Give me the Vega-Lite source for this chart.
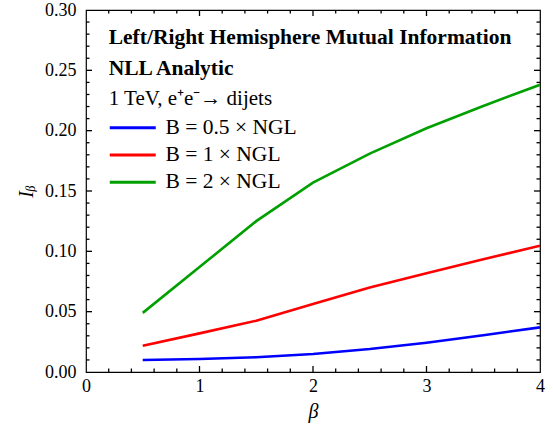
{
  "$schema": "https://vega.github.io/schema/vega-lite/v6.json",
  "width": 454,
  "height": 362,
  "autosize": {"type": "none"},
  "padding": {"left": 86, "top": 10, "right": 13, "bottom": 62},
  "background": "white",
  "config": {
    "font": "Liberation Serif",
    "view": {"stroke": "black", "strokeWidth": 1.2},
    "text": {"font": "Liberation Serif"},
    "axis": {"domain": false, "ticks": false, "grid": false, "labelFont": "Liberation Serif", "titleFont": "Liberation Serif", "labelColor": "black", "titleColor": "black", "labelFontSize": 18},
    "legend": {"labelFont": "Liberation Serif"}
  },
  "datasets": {
    "curves": [
      {"beta": 0.5, "I": 0.0099, "series": "B = 0.5 × NGL"},
      {"beta": 1.0, "I": 0.0108, "series": "B = 0.5 × NGL"},
      {"beta": 1.5, "I": 0.0122, "series": "B = 0.5 × NGL"},
      {"beta": 2.0, "I": 0.0149, "series": "B = 0.5 × NGL"},
      {"beta": 2.5, "I": 0.0190, "series": "B = 0.5 × NGL"},
      {"beta": 3.0, "I": 0.0243, "series": "B = 0.5 × NGL"},
      {"beta": 3.5, "I": 0.0305, "series": "B = 0.5 × NGL"},
      {"beta": 4.0, "I": 0.0370, "series": "B = 0.5 × NGL"},
      {"beta": 0.5, "I": 0.0218, "series": "B = 1 × NGL"},
      {"beta": 1.0, "I": 0.0320, "series": "B = 1 × NGL"},
      {"beta": 1.5, "I": 0.0425, "series": "B = 1 × NGL"},
      {"beta": 2.0, "I": 0.0563, "series": "B = 1 × NGL"},
      {"beta": 2.5, "I": 0.0700, "series": "B = 1 × NGL"},
      {"beta": 3.0, "I": 0.0818, "series": "B = 1 × NGL"},
      {"beta": 3.5, "I": 0.0934, "series": "B = 1 × NGL"},
      {"beta": 4.0, "I": 0.1047, "series": "B = 1 × NGL"},
      {"beta": 0.5, "I": 0.0490, "series": "B = 2 × NGL"},
      {"beta": 1.0, "I": 0.0870, "series": "B = 2 × NGL"},
      {"beta": 1.5, "I": 0.1250, "series": "B = 2 × NGL"},
      {"beta": 2.0, "I": 0.1570, "series": "B = 2 × NGL"},
      {"beta": 2.5, "I": 0.1810, "series": "B = 2 × NGL"},
      {"beta": 3.0, "I": 0.2020, "series": "B = 2 × NGL"},
      {"beta": 3.5, "I": 0.2205, "series": "B = 2 × NGL"},
      {"beta": 4.0, "I": 0.2380, "series": "B = 2 × NGL"}
    ],
    "bold": [
      {"beta": 0.2, "I": 0.2764, "label": "Left/Right Hemisphere Mutual Information"},
      {"beta": 0.2, "I": 0.2513, "label": "NLL Analytic"}
    ],
    "plain": [
      {"beta": 0.2, "I": 0.2264, "label": "1 TeV, e⁺e⁻→ dijets"}
    ],
    "xmajor": [{"beta": 1}, {"beta": 2}, {"beta": 3}],
    "xminor": [{"beta": 0.2}, {"beta": 0.4}, {"beta": 0.6}, {"beta": 0.8}, {"beta": 1.2}, {"beta": 1.4}, {"beta": 1.6}, {"beta": 1.8}, {"beta": 2.2}, {"beta": 2.4}, {"beta": 2.6}, {"beta": 2.8}, {"beta": 3.2}, {"beta": 3.4}, {"beta": 3.6}, {"beta": 3.8}],
    "ymajor": [{"I": 0.05}, {"I": 0.1}, {"I": 0.15}, {"I": 0.2}, {"I": 0.25}],
    "yminor": [{"I": 0.01}, {"I": 0.02}, {"I": 0.03}, {"I": 0.04}, {"I": 0.06}, {"I": 0.07}, {"I": 0.08}, {"I": 0.09}, {"I": 0.11}, {"I": 0.12}, {"I": 0.13}, {"I": 0.14}, {"I": 0.16}, {"I": 0.17}, {"I": 0.18}, {"I": 0.19}, {"I": 0.21}, {"I": 0.22}, {"I": 0.23}, {"I": 0.24}, {"I": 0.26}, {"I": 0.27}, {"I": 0.28}, {"I": 0.29}]
  },
  "encoding": {
    "x": {"type": "quantitative", "scale": {"domain": [0, 4], "nice": false, "zero": false}},
    "y": {"type": "quantitative", "scale": {"domain": [0, 0.3], "nice": false, "zero": false}}
  },
  "layer": [
    {
      "data": {"name": "curves"},
      "mark": {"type": "line", "strokeWidth": 2.6, "clip": true},
      "encoding": {
        "x": {"field": "beta", "type": "quantitative",
              "axis": {"orient": "bottom", "values": [0, 1, 2, 3, 4], "labelPadding": 5, "format": "d", "labelFont": "Liberation Serif", "title": "β", "titleFont": "Liberation Serif", "titleFontStyle": "italic", "titleFontWeight": "normal", "titleFontSize": 20, "titlePadding": 6, "labelFlush": false}},
        "y": {"field": "I", "type": "quantitative",
              "axis": {"orient": "left", "values": [0, 0.05, 0.1, 0.15, 0.2, 0.25, 0.3], "labelPadding": 10, "format": ".2f", "labelFont": "Liberation Serif", "title": "Iᵦ", "titleFont": "Liberation Serif", "titleFontStyle": "italic", "titleFontWeight": "normal", "titleFontSize": 20, "titlePadding": 8, "labelFlush": false}},
        "color": {"field": "series", "type": "nominal",
                  "scale": {"domain": ["B = 0.5 × NGL", "B = 1 × NGL", "B = 2 × NGL"], "range": ["#0000ff", "#ff0000", "#00a000"]},
                  "legend": {"orient": "none", "legendX": 36, "legendY": 107, "title": null, "symbolType": "M-3.4,0L3.4,0", "symbolSize": 183, "symbolStrokeWidth": 3, "symbolFillColor": "transparent", "labelFont": "Liberation Serif", "labelFontSize": 21.5, "labelColor": "black", "labelOffset": 22, "rowPadding": 4.2, "symbolOpacity": 1}}
      }
    },
    {
      "data": {"name": "xmajor"},
      "mark": {"type": "tick", "orient": "vertical", "size": 6, "thickness": 1.3, "color": "black", "opacity": 1, "yOffset": -3},
      "encoding": {"x": {"field": "beta", "type": "quantitative"}, "y": {"datum": 0}}
    },
    {
      "data": {"name": "xmajor"},
      "mark": {"type": "tick", "orient": "vertical", "size": 6, "thickness": 1.3, "color": "black", "opacity": 1, "yOffset": 3},
      "encoding": {"x": {"field": "beta", "type": "quantitative"}, "y": {"datum": 0.3}}
    },
    {
      "data": {"name": "xminor"},
      "mark": {"type": "tick", "orient": "vertical", "size": 3.5, "thickness": 1.3, "color": "black", "opacity": 1, "yOffset": -1.75},
      "encoding": {"x": {"field": "beta", "type": "quantitative"}, "y": {"datum": 0}}
    },
    {
      "data": {"name": "xminor"},
      "mark": {"type": "tick", "orient": "vertical", "size": 3.5, "thickness": 1.3, "color": "black", "opacity": 1, "yOffset": 1.75},
      "encoding": {"x": {"field": "beta", "type": "quantitative"}, "y": {"datum": 0.3}}
    },
    {
      "data": {"name": "ymajor"},
      "mark": {"type": "tick", "orient": "horizontal", "size": 6, "thickness": 1.3, "color": "black", "opacity": 1, "xOffset": 3},
      "encoding": {"y": {"field": "I", "type": "quantitative"}, "x": {"datum": 0}}
    },
    {
      "data": {"name": "ymajor"},
      "mark": {"type": "tick", "orient": "horizontal", "size": 6, "thickness": 1.3, "color": "black", "opacity": 1, "xOffset": -3},
      "encoding": {"y": {"field": "I", "type": "quantitative"}, "x": {"datum": 4}}
    },
    {
      "data": {"name": "yminor"},
      "mark": {"type": "tick", "orient": "horizontal", "size": 3.5, "thickness": 1.3, "color": "black", "opacity": 1, "xOffset": 1.75},
      "encoding": {"y": {"field": "I", "type": "quantitative"}, "x": {"datum": 0}}
    },
    {
      "data": {"name": "yminor"},
      "mark": {"type": "tick", "orient": "horizontal", "size": 3.5, "thickness": 1.3, "color": "black", "opacity": 1, "xOffset": -1.75},
      "encoding": {"y": {"field": "I", "type": "quantitative"}, "x": {"datum": 4}}
    },
    {
      "data": {"name": "bold"},
      "mark": {"type": "text", "align": "left", "baseline": "middle", "font": "Liberation Serif", "fontWeight": "bold", "fontSize": 21.5, "color": "black"},
      "encoding": {
        "x": {"field": "beta", "type": "quantitative"},
        "y": {"field": "I", "type": "quantitative"},
        "text": {"field": "label"}
      }
    },
    {
      "data": {"name": "plain"},
      "mark": {"type": "text", "align": "left", "baseline": "middle", "font": "Liberation Serif", "fontSize": 21, "color": "black"},
      "encoding": {
        "x": {"field": "beta", "type": "quantitative"},
        "y": {"field": "I", "type": "quantitative"},
        "text": {"field": "label"}
      }
    }
  ]
}
